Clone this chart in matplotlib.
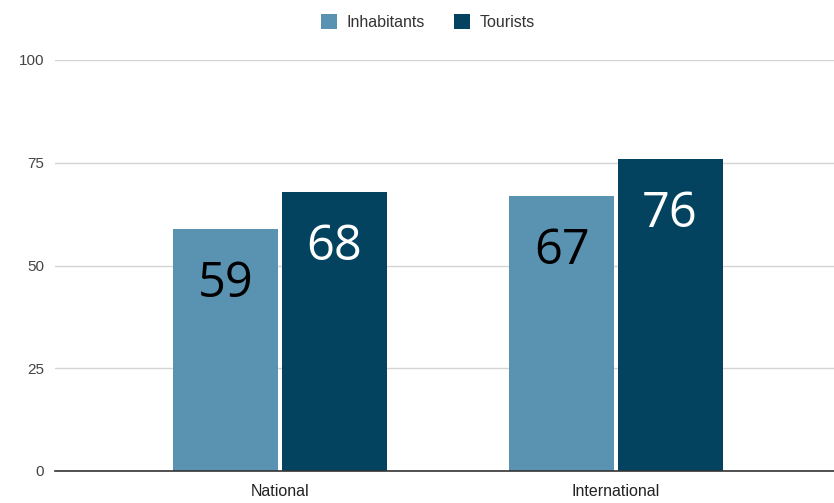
import matplotlib
matplotlib.use("Agg")
import matplotlib.pyplot as plt
import numpy as np

categories = ["National", "International"]
inhabitants = [59, 67]
tourists = [68, 76]
series_names = ["Inhabitants", "Tourists"]
yticks = [0, 25, 50, 75, 100]

c_inh = "#5A93B2"
c_tou = "#03435F"

W, H = 834, 503
fig = plt.figure(figsize=(W / 100, H / 100), dpi=100)
ax = fig.add_axes([55 / W, (H - 471) / H, (834 - 55) / W, (471 - 60) / H])

x = np.arange(len(categories))
bw = 0.3125
off = 0.161
b1 = ax.bar(x - off, inhabitants, bw, color=c_inh, label=series_names[0], zorder=3)
b2 = ax.bar(x + off, tourists, bw, color=c_tou, label=series_names[1], zorder=3)

for rect, v in zip(b1, inhabitants):
    ax.annotate(str(v), (rect.get_x() + rect.get_width() / 2, v), xytext=(0, -40),
                textcoords="offset points", ha="center", va="center",
                fontsize=35, color="black", family="Open Sans", zorder=4)
for rect, v in zip(b2, tourists):
    ax.annotate(str(v), (rect.get_x() + rect.get_width() / 2, v), xytext=(0, -40),
                textcoords="offset points", ha="center", va="center",
                fontsize=35, color="white", family="Open Sans", zorder=4)

ax.set_xlim(-225 / 336, (834 - 280) / 336)
ax.set_ylim(0, 100)
ax.set_yticks(yticks)
ax.set_yticklabels([str(t) for t in yticks], family="Liberation Sans", fontsize=11, color="#444444")
ax.set_xticks(x)
ax.set_xticklabels(categories, family="Liberation Sans", fontsize=11.5, color="#222222")
ax.tick_params(axis="both", length=0)
ax.tick_params(axis="y", pad=8)
ax.tick_params(axis="x", pad=9)
ax.grid(axis="y", color="#d4d4d4", linewidth=1, zorder=0)
for s in ["top", "right", "left"]:
    ax.spines[s].set_visible(False)
ax.spines["bottom"].set_color("#333333")
ax.spines["bottom"].set_linewidth(1.2)
ax.spines["bottom"].set_zorder(5)

leg = fig.legend(loc="upper center", bbox_to_anchor=(0.513, 1.0), ncol=2, frameon=False,
                 prop={"family": "Liberation Sans", "size": 11.5}, handlelength=1.0, handleheight=1.0,
                 columnspacing=1.8, handletextpad=0.6)
for t in leg.get_texts():
    t.set_color("#333333")

fig.savefig("out.png", dpi=100, facecolor="white")
